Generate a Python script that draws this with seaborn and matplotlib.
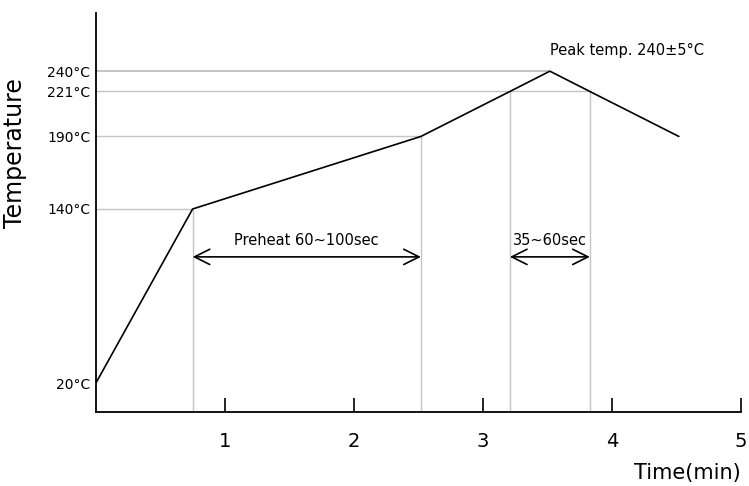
import numpy as np
import pandas as pd
import matplotlib
matplotlib.use('Agg')
import matplotlib.pyplot as plt
import seaborn as sns

# reflow profile
time_min = [0, 0.75, 2.52, 3.21, 3.52, 3.83, 4.52]
temp_c = [20, 140, 190, 221, 240, 221, 190]

ytick_vals = [20, 140, 190, 221, 240]
ytick_labels = ['20°C', '140°C', '190°C', '221°C', '240°C']
xtick_vals = [1, 2, 3, 4, 5]
xtick_labels = ['1', '2', '3', '4', '5']

preheat_span = (0.75, 2.52)
reflow_span = (3.21, 3.83)

# the drawing is not to scale near the peak: 221..240 is squeezed
scale_in = [0, 221, 240, 300]
scale_out = [0, 221, 235, 295]


def fwd(t):
    return np.interp(t, scale_in, scale_out)


def inv(d):
    return np.interp(d, scale_out, scale_in)


sns.set_style('white')
plt.rcParams['font.family'] = ['DejaVu Sans']
plt.rcParams['text.color'] = 'black'
plt.rcParams['axes.labelcolor'] = 'black'

profile = pd.DataFrame({'Time': time_min, 'Temp': temp_c})

fig = plt.figure(figsize=(7.49, 4.86), dpi=100)
ax = fig.add_axes([0.128, 0.152, 0.861, 0.821])
ax.set_yscale('function', functions=(fwd, inv))

grey = '#c4c4c4'
# guide lines from the y axis to the curve, and down to the time axis
ax.hlines(140, 0, time_min[1], color=grey, lw=1)
ax.hlines(190, 0, time_min[2], color=grey, lw=1)
ax.hlines(221, 0, time_min[5], color=grey, lw=1)
ax.hlines(240, 0, time_min[4], color=grey, lw=1.4)
ax.vlines(time_min[1], 0, 140, color=grey, lw=1)
ax.vlines(time_min[2], 0, 190, color=grey, lw=1)
ax.vlines(time_min[3], 0, 221, color=grey, lw=1)
ax.vlines(time_min[5], 0, 221, color=grey, lw=1)

sns.lineplot(data=profile, x='Time', y='Temp', color='black', lw=1.2, ax=ax,
             sort=False, estimator=None)

arrow = dict(arrowstyle='<->,head_length=1.1,head_width=0.55', color='black',
             lw=1.2, shrinkA=0, shrinkB=0)
ax.annotate('', xy=(preheat_span[0], 107), xytext=(preheat_span[1], 107),
            arrowprops=arrow)
ax.annotate('', xy=(reflow_span[0], 107), xytext=(reflow_span[1], 107),
            arrowprops=arrow)
ax.text(sum(preheat_span) / 2, 118, 'Preheat 60~100sec', ha='center',
        va='center', fontsize=10.5)
ax.text(sum(reflow_span) / 2, 118, '35~60sec', ha='center', va='center',
        fontsize=10.5)
ax.text(time_min[4], 254, 'Peak temp. 240±5°C', ha='left', va='center',
        fontsize=10.5)

ax.set_xlim(0, 5)
ax.set_ylim(0, 280)
ax.set_xticks(xtick_vals)
ax.set_xticklabels(xtick_labels, fontsize=14)
ax.set_yticks(ytick_vals)
ax.set_yticklabels(ytick_labels, fontsize=10)
ax.minorticks_off()
ax.tick_params(axis='x', direction='in', length=10, width=1.2, pad=14,
               bottom=True, colors='black')
ax.tick_params(axis='y', length=0, pad=4, colors='black')
ax.set_xlabel('Time(min)', loc='right', fontsize=15, labelpad=9)
ax.set_ylabel('Temperature', fontsize=17)
ax.yaxis.set_label_coords(-0.107, 0.65)

for side in ['top', 'right']:
    ax.spines[side].set_visible(False)
for side in ['left', 'bottom']:
    ax.spines[side].set_color('black')
    ax.spines[side].set_linewidth(1.3)

plt.savefig('out.png', dpi=100)
